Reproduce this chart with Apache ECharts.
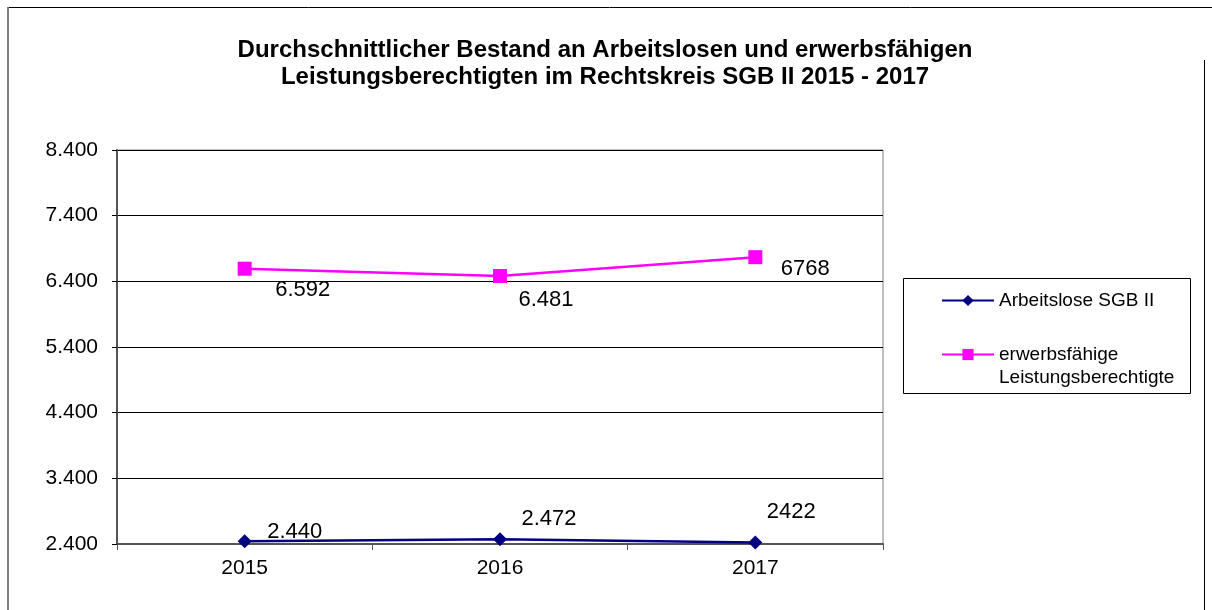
<!DOCTYPE html>
<html>
<head>
<meta charset="utf-8">
<script src="https://cdn.jsdelivr.net/npm/echarts@6/dist/echarts.min.js"></script>
<style>
html, body { margin: 0; padding: 0; background: #fff; }
#chart { width: 1212px; height: 610px; }
</style>
</head>
<body>
<div id="chart"></div>
<script>
var years = ["2015", "2016", "2017"];
var arbeitslose = [2440, 2472, 2422];
var arbeitsloseLabels = ["2.440", "2.472", "2422"];
var elb = [6592, 6481, 6768];
var elbLabels = ["6.592", "6.481", "6768"];
var seriesNames = ["Arbeitslose SGB II", "erwerbsfähige\nLeistungsberechtigte"];

// label offsets (px from the point), hand placed like in the original
var elbOffsets = [[58, 21], [46, 24], [50, 12]];
var alOffsets = [[50, -9], [49, -20], [36, -31]];

function withLabels(values, labels, offsets) {
    return values.map(function (v, i) {
        return {
            value: v,
            label: { formatter: labels[i], offset: offsets[i] }
        };
    });
}

function fmtNum(v) {
    var s = String(v);
    return s.length > 3 ? s.slice(0, s.length - 3) + "." + s.slice(-3) : s;
}

var myChart = echarts.init(document.getElementById("chart"));
var opt = {
    backgroundColor: "#fff",
    animation: false,
    textStyle: { fontFamily: "Liberation Sans, Arial, sans-serif", color: "#000" },
    title: {
        text: "Durchschnittlicher Bestand an Arbeitslosen und erwerbsfähigen\nLeistungsberechtigten im Rechtskreis SGB II 2015 - 2017",
        left: 600,
        top: 32,
        textAlign: "center",
        textStyle: { fontSize: 24, fontWeight: "bold", lineHeight: 27, color: "#000" }
    },
    legend: {
        orient: "vertical",
        left: 936,
        top: 284,
        itemWidth: 52,
        itemHeight: 14,
        itemGap: 8,
        textStyle: { fontSize: 19, lineHeight: 23, color: "#000" },
        // blank first line so the marker sits next to the first text line
        formatter: function (name) {
            return name.indexOf("\n") >= 0 ? " \n" + name : name;
        },
        data: seriesNames
    },
    graphic: [
        // outer frame (only top, left, right edges are visible)
        { type: "line", shape: { x1: 7, y1: 7.5, x2: 1212, y2: 7.5 }, style: { stroke: "#000", lineWidth: 1 } },
        { type: "line", shape: { x1: 8, y1: 7, x2: 8, y2: 610 }, style: { stroke: "#808080", lineWidth: 2 } },
        { type: "line", shape: { x1: 1204.5, y1: 60, x2: 1204.5, y2: 610 }, style: { stroke: "#000", lineWidth: 1 } },
        // legend box
        {
            type: "rect",
            shape: { x: 903.5, y: 278.5, width: 287, height: 115 },
            style: { fill: "none", stroke: "#000", lineWidth: 1 },
            z: 10
        }
    ],
    grid: {
        left: 117,
        top: 150,
        right: 329,
        bottom: 66,
        show: true,
        borderColor: "#808080",
        borderWidth: 1
    },
    xAxis: {
        type: "category",
        data: years,
        boundaryGap: true,
        axisLine: { lineStyle: { color: "#555", width: 2 } },
        axisTick: { show: true, length: 6, lineStyle: { color: "#555" } },
        axisLabel: { fontSize: 21, color: "#000", margin: 14 }
    },
    yAxis: {
        type: "value",
        min: 2400,
        max: 8400,
        interval: 1000,
        axisLine: { show: true, lineStyle: { color: "#555", width: 2 } },
        axisTick: { show: true, length: 5, lineStyle: { color: "#000" } },
        axisLabel: { fontSize: 21, color: "#000", margin: 19, formatter: fmtNum },
        splitLine: { lineStyle: { color: "#000", width: 1 } }
    },
    series: [
        {
            name: seriesNames[0],
            type: "line",
            data: withLabels(arbeitslose, arbeitsloseLabels, alOffsets),
            color: "#000080",
            symbol: "diamond",
            symbolSize: 14,
            lineStyle: { width: 2.5, color: "#000080" },
            itemStyle: { color: "#000080" },
            label: { show: true, position: "inside", fontSize: 22, color: "#000" },
            z: 5
        },
        {
            name: seriesNames[1],
            type: "line",
            data: withLabels(elb, elbLabels, elbOffsets),
            color: "#FF00FF",
            symbol: "rect",
            symbolSize: 14,
            lineStyle: { width: 2.5, color: "#FF00FF" },
            itemStyle: { color: "#FF00FF" },
            label: { show: true, position: "inside", fontSize: 22, color: "#000" },
            z: 5
        }
    ]
};
myChart.setOption(opt);
</script>
</body>
</html>
